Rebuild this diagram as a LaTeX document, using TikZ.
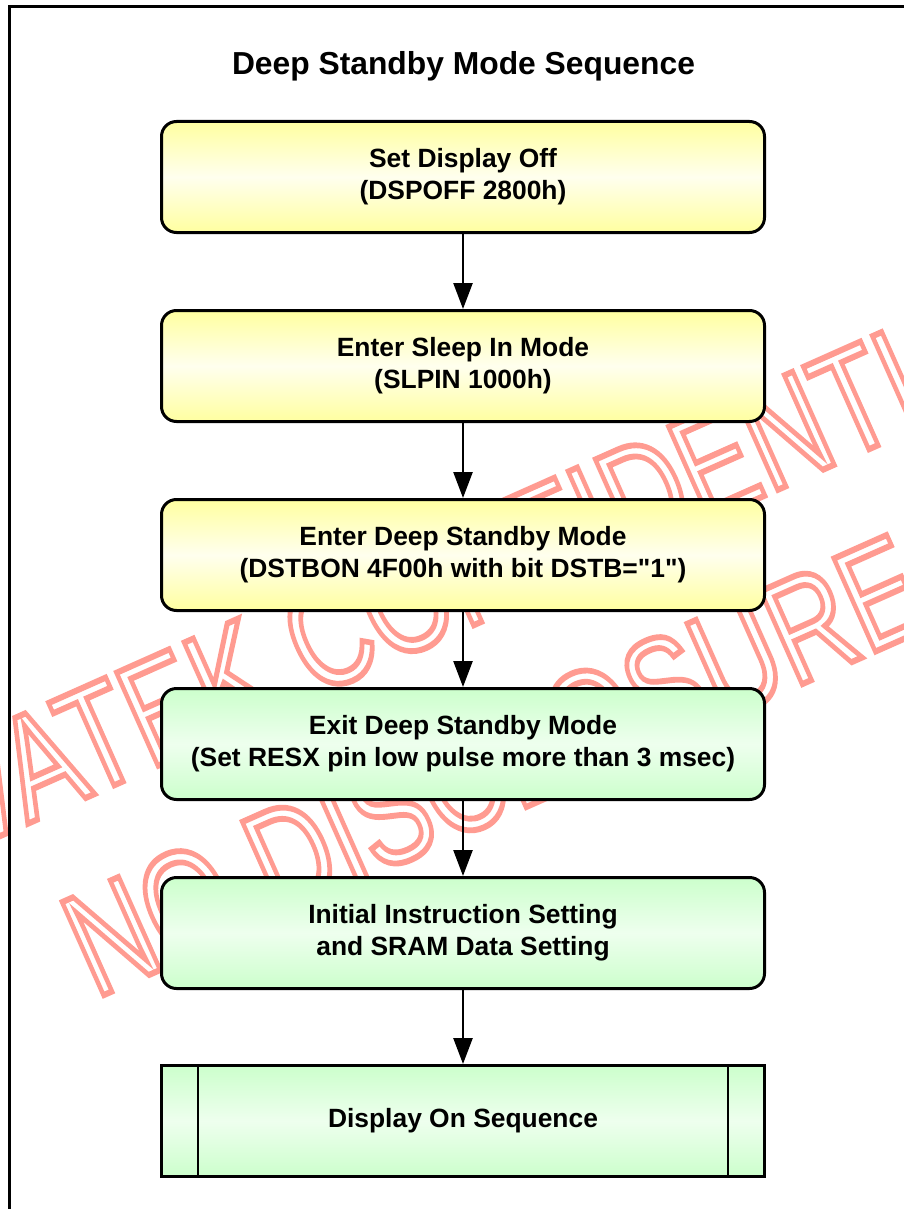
\documentclass[tikz,border=0pt]{standalone}
\usepackage{fontspec}
\setmainfont{Liberation Sans}
\newfontfamily\plainsans{Liberation Sans}
\usetikzlibrary{arrows.meta}
\definecolor{ylw}{RGB}{255,255,160}
\definecolor{ylwmid}{RGB}{255,255,238}
\definecolor{grn}{RGB}{204,255,204}
\definecolor{grnmid}{RGB}{238,255,238}
\definecolor{wm}{RGB}{255,155,145}
\newcommand{\sq}{{\plainsans\symbol{34}}}
\begin{document}
\begin{tikzpicture}[x=1pt,y=1pt,
  boxbase/.style={draw=black, line width=3pt, minimum width=603pt, minimum height=111pt,
    inner sep=0pt, align=center, font=\fontsize{26.4}{31.7}\selectfont\bfseries},
  ybox/.style={boxbase, rounded corners=15pt, top color=ylw, bottom color=ylw, middle color=ylwmid},
  gbox/.style={boxbase, rounded corners=15pt, top color=grn, bottom color=grn, middle color=grnmid},
  sbox/.style={boxbase, top color=grn, bottom color=grn, middle color=grnmid},
  flow/.style={draw=black, line width=2.5pt, -{Triangle[length=26pt,width=19pt]}},
  wmtext/.style={text=wm, font=\fontsize{148}{178}\selectfont, inner sep=0pt, anchor=base,
    rotate=24, xscale=0.75},
  frameline/.style={draw=black, line width=3pt},
  sideline/.style={draw=black, line width=2pt}
]
\useasboundingbox (0,0) rectangle (904,-1209);
\clip (0,0) rectangle (904,-1209);

% watermark
\begin{scope}
\node[wmtext] (wm1) at (436,-642) {\special{pdf:literal direct 1 Tr 6 w}NOVATEK CONFIDENTIAL\special{pdf:literal direct 0 Tr}};
\end{scope}
\begin{scope}
\node[wmtext] (wm2) at (515,-812) {\special{pdf:literal direct 1 Tr 6 w}NO DISCLOSURE\special{pdf:literal direct 0 Tr}};
\end{scope}

% frame
\draw[frameline] (9.5,-6.5) rectangle (1000,-1300);

% title
\node[anchor=base, font=\fontsize{31.8}{38}\selectfont\bfseries] (title) at (463.5,-75) {Deep Standby Mode Sequence};

% boxes
\node[ybox] (b1) at (463,-177) {Set Display Off\\(DSPOFF 2800h)};
\node[ybox] (b2) at (463,-366) {Enter Sleep In Mode\\(SLPIN 1000h)};
\node[ybox] (b3) at (463,-555) {Enter Deep Standby Mode\\(DSTBON 4F00h with bit DSTB=\sq1\sq)};
\node[gbox] (b4) at (463,-744) {Exit Deep Standby Mode\\(Set RESX pin low pulse more than 3 msec)};
\node[gbox] (b5) at (463,-933) {Initial Instruction Setting\\and SRAM Data Setting};
\node[sbox] (b6) at (463,-1121) {Display On Sequence};
\draw[sideline] ([xshift=38pt]b6.north west) -- ([xshift=38pt]b6.south west);
\draw[sideline] ([xshift=-38pt]b6.north east) -- ([xshift=-38pt]b6.south east);

% arrows
\draw[flow] (b1) -- (b2);
\draw[flow] (b2) -- (b3);
\draw[flow] (b3) -- (b4);
\draw[flow] (b4) -- (b5);
\draw[flow] (b5) -- (b6);
\end{tikzpicture}
\end{document}
